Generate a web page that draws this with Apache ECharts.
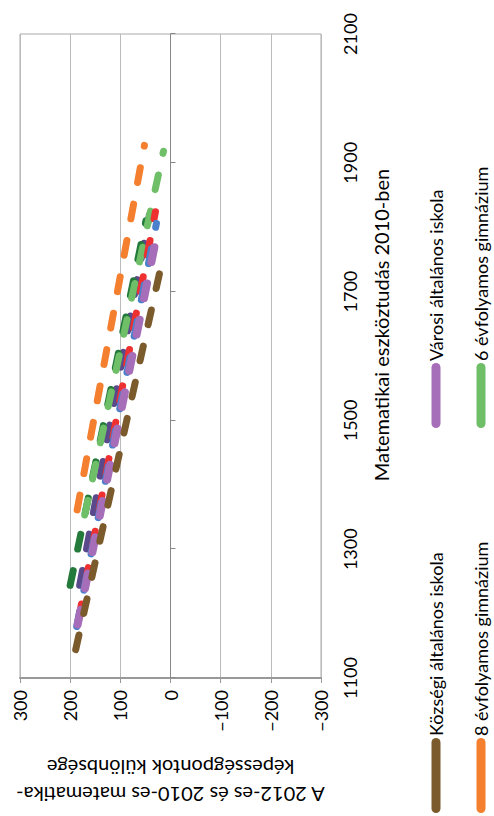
<!DOCTYPE html>
<html>
<head>
<meta charset="utf-8">
<script src="https://cdn.jsdelivr.net/npm/echarts@6/dist/echarts.min.js"></script>
<style>
html,body{margin:0;padding:0;background:#fff;overflow:hidden;width:494px;height:816px}
#chart{position:absolute;left:0;top:0;width:816px;height:494px;transform-origin:0 0;transform:translateY(816px) rotate(-90deg);}
</style>
</head>
<body>
<div id="chart"></div>
<script>
// ---- data ----
const seriesNames = [
  'Községi általános iskola',
  'Városi általános iskola',
  '8 évfolyamos gimnázium',
  '6 évfolyamos gimnázium',
  'Megyeszékhelyi általános iskola',
  'Fővárosi általános iskola',
  'Általános iskola összesen',
  'Gimnázium összesen'
];
// skill level in 2010 at the start / end of each line
const startX = [1144, 1183, 1361, 1353, 1192, 1180, 1244, 1244];
const endX   = [1756, 1800, 1927, 1918, 1824, 1806, 1819, 1810];
// 2012-2010 score difference at the start / end of each line
const startV = [189, 185, 186, 171, 183, 187, 181, 200];
const endV   = [14, 24, 52, 14, 30, 28, 42, 49];
const xTicks = [1100, 1300, 1500, 1700, 1900, 2100];
const yTicks = [-300, -200, -100, 0, 100, 200, 300];
const legendShown = [0, 1, 2, 3];

// ---- styles ----
const colors = ['#7b5a2c', '#a66db8', '#f47f2f', '#6fbe68', '#ee3030', '#4a80cc', '#5b4a8b', '#247a3b'];
const widths = [7, 8, 7, 7, 7, 7, 7, 7];
const drawOrder = [6, 7, 3, 4, 5, 1, 0, 2];
const FONT = 'Lato';
const capsule = w => 'path://M4.5,0H' + (w - 4.5) + 'A4.5,4.5,0,0,1,' + (w - 4.5) + ',9H4.5A4.5,4.5,0,0,1,4.5,0Z';

const series = drawOrder.map(i => ({
  name: seriesNames[i],
  type: 'line',
  xAxisIndex: 0,
  yAxisIndex: 0,
  showSymbol: false,
  symbol: 'none',
  silent: true,
  itemStyle: {color: colors[i]},
  lineStyle: {color: colors[i], width: widths[i], type: [15, 22], cap: 'round'},
  data: [[startX[i], startV[i]], [endX[i], endV[i]]]
}));

const legendPos = [
  {left: 3, top: 427, w: 75},
  {left: 388, top: 427, w: 65},
  {left: 3, top: 472, w: 75},
  {left: 388, top: 472, w: 65}
];
const legends = legendShown.map((i, k) => ({
  data: [seriesNames[i]],
  left: legendPos[k].left,
  top: legendPos[k].top,
  padding: 0,
  icon: capsule(legendPos[k].w),
  itemWidth: legendPos[k].w,
  itemHeight: 9,
  selectedMode: false,
  textStyle: {fontFamily: FONT, fontSize: 18, color: '#000', padding: [0, 0, 0, -3]}
}));

const minus = v => String(v).replace('-', '\u2212');

const chart = echarts.init(document.getElementById('chart'), null, {renderer: 'svg', width: 816, height: 494});
chart.setOption({
  animation: false,
  backgroundColor: '#fff',
  textStyle: {fontFamily: FONT},
  grid: {left: 112, right: 34, top: 20, bottom: 173, show: true, borderColor: '#aaa', borderWidth: 1, backgroundColor: 'transparent'},
  legend: legends,
  xAxis: [
    {
      type: 'value', min: xTicks[0], max: xTicks[xTicks.length - 1], interval: xTicks[1] - xTicks[0],
      axisLine: {show: true, onZero: true, lineStyle: {color: '#888', width: 1}},
      axisTick: {show: true, length: 5, lineStyle: {color: '#888'}},
      axisLabel: {show: false},
      splitLine: {show: false}
    },
    {
      type: 'value', position: 'bottom', min: xTicks[0], max: xTicks[xTicks.length - 1], interval: xTicks[1] - xTicks[0],
      axisLine: {show: false, onZero: false},
      axisTick: {show: false},
      splitLine: {show: false},
      axisLabel: {show: true, fontFamily: FONT, fontSize: 18, color: '#000', margin: 20, formatter: v => String(v)},
      name: 'Matematikai eszköztudás 2010-ben',
      nameLocation: 'middle',
      nameGap: 50,
      nameTextStyle: {fontFamily: FONT, fontSize: 20, color: '#000', padding: [0, 0, 0, 62]}
    }
  ],
  yAxis: {
    type: 'value', min: yTicks[0], max: yTicks[yTicks.length - 1], interval: yTicks[1] - yTicks[0],
    axisLine: {show: true, lineStyle: {color: '#999', width: 2}},
    axisTick: {show: true, length: 5, lineStyle: {color: '#999'}},
    axisLabel: {fontFamily: FONT, fontSize: 18, color: '#000', margin: 12, formatter: minus},
    splitLine: {show: true, lineStyle: {color: '#bbb', width: 1}},
    name: 'A 2012-es és 2010-es matematika-\nképességpontok különbsége',
    nameLocation: 'middle',
    nameRotate: 90,
    nameGap: 76,
    nameTextStyle: {fontFamily: FONT, fontSize: 20, color: '#000', lineHeight: 27}
  },
  series: series
});
</script>
</body>
</html>
